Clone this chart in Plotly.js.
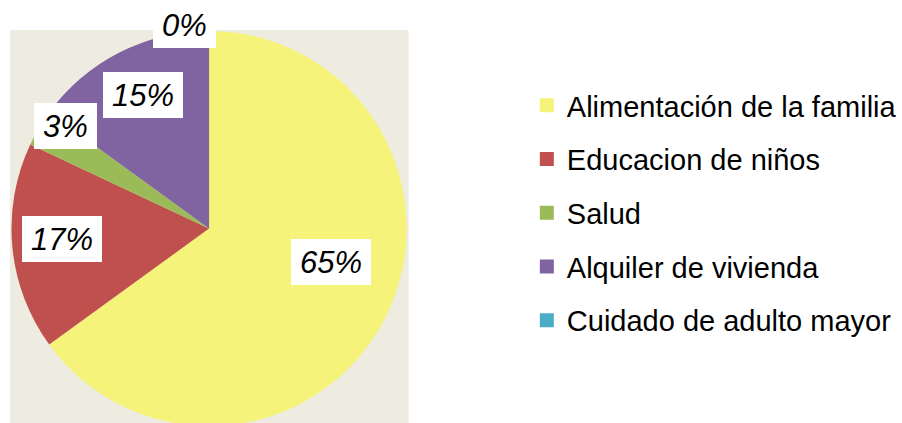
<!DOCTYPE html>
<html>
<head>
<meta charset="utf-8">
<script src="https://cdn.plot.ly/plotly-3.0.1.min.js"></script>
<style>
html, body { margin: 0; padding: 0; overflow: hidden; background: #ffffff; }
#chart { width: 902px; height: 430px; }
</style>
</head>
<body>
<div id="chart"></div>
<script>
// ---- data ----
const categories = [
  "Alimentación de la familia",
  "Educacion de niños",
  "Salud",
  "Alquiler de vivienda",
  "Cuidado de adulto mayor"
];
const values = [65, 17, 3, 15, 0];
const colors = ["#F5F379", "#C0504D", "#9BBB59", "#8064A2", "#4BACC6"];

// ---- label style nudges (pixels) ----
const labelXShift = [-8, -1, -18, 0, -25];
const labelYShift = [33, 3, 28, 3, 57];

const W = 902, H = 430;
const pieCx = 209.5, pieCy = 228.5, pieR = 198;
const domX = [(pieCx - pieR) / W, (pieCx + pieR) / W];
const domY = [(H - (pieCy + pieR)) / H, (H - (pieCy - pieR)) / H];

const total = values.reduce((a, b) => a + b, 0);
const annotations = [];
let cum = 0;
values.forEach((v, i) => {
  const mid = (cum + v / 2) / total * 2 * Math.PI;
  cum += v;
  const r = 0.74 * pieR;
  const px = pieCx + r * Math.sin(mid);
  const py = pieCy - r * Math.cos(mid);
  annotations.push({
    xref: 'paper', yref: 'paper',
    x: px / W, y: (H - py) / H,
    xanchor: 'center', yanchor: 'middle',
    xshift: labelXShift[i], yshift: labelYShift[i],
    text: '<i>' + Math.round(v / total * 100) + '%</i>',
    showarrow: false,
    bgcolor: '#ffffff',
    borderwidth: 0,
    borderpad: 9,
    height: 28,
    font: { family: 'Liberation Sans, Arial, sans-serif', size: 31, color: '#000000' }
  });
});

const traces = [{
  type: 'pie',
  labels: categories,
  values: values,
  sort: false,
  direction: 'clockwise',
  rotation: 0,
  marker: { colors: colors, line: { width: 0 } },
  textinfo: 'none',
  hoverinfo: 'label+percent',
  showlegend: false,
  domain: { x: domX, y: domY }
}];

// legend entries (one per category, for spacing between items)
categories.forEach((c, i) => {
  traces.push({
    type: 'scatter',
    mode: 'markers',
    x: [null], y: [null],
    name: c,
    legendgroup: 'g' + i,
    showlegend: true,
    marker: { symbol: 'square', size: 14, color: colors[i], line: { width: 0 } },
    hoverinfo: 'skip'
  });
});

const layout = {
  width: W, height: H,
  margin: { l: 0, r: 0, t: 0, b: 0 },
  paper_bgcolor: '#ffffff',
  plot_bgcolor: 'rgba(0,0,0,0)',
  xaxis: { visible: false, showgrid: false, zeroline: false },
  yaxis: { visible: false, showgrid: false, zeroline: false },
  shapes: [{
    type: 'rect', xref: 'paper', yref: 'paper', layer: 'below',
    x0: 10 / W, x1: 409.5 / W, y0: 0, y1: (H - 30) / H,
    fillcolor: '#EEECE1', line: { width: 0 }
  }],
  annotations: annotations,
  showlegend: true,
  legend: {
    x: 528 / W, xanchor: 'left',
    y: (H - 80) / H, yanchor: 'top',
    traceorder: 'grouped',
    tracegroupgap: 13,
    bgcolor: 'rgba(0,0,0,0)',
    borderwidth: 0,
    itemsizing: 'trace',
    font: { family: 'Liberation Sans, Arial, sans-serif', size: 29, color: '#000000' }
  },
  font: { family: 'Liberation Sans, Arial, sans-serif' }
};

Plotly.newPlot('chart', traces, layout, { displayModeBar: false, staticPlot: true });
</script>
</body>
</html>
